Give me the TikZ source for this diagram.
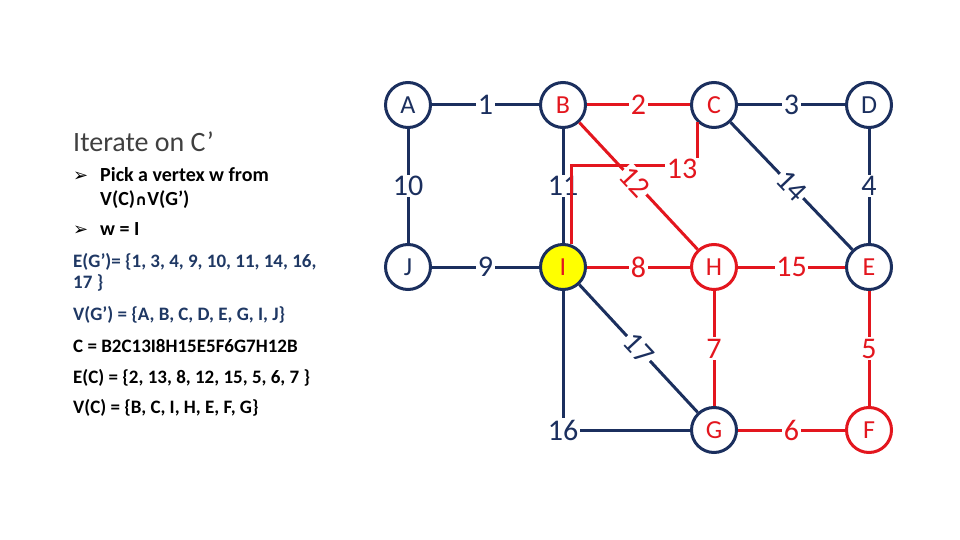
\documentclass[tikz,border=0pt]{standalone}
\usepackage{fontspec}
\setmainfont{Carlito}
\newfontfamily\dejavu{DejaVu Sans}
\definecolor{navy}{HTML}{1B2F5E}
\definecolor{gred}{HTML}{E3161E}
\definecolor{txtnavy}{HTML}{1F3864}
\definecolor{titlegray}{HTML}{404040}
\definecolor{hlyellow}{HTML}{FFFF00}
\begin{document}
\begin{tikzpicture}[x=1pt,y=-1pt,
  vtx/.style={circle, draw=navy, line width=3pt, minimum size=45pt, inner sep=0pt, fill=white,
    font=\fontsize{26}{26}\selectfont, text=navy},
  rtxt/.style={text=gred},
  rring/.style={draw=gred},
  ne/.style={navy, line width=3pt},
  re/.style={gred, line width=3pt},
  lbl/.style={fill=white, inner sep=1.5pt, font=\fontsize{30}{30}\selectfont},
  tx/.style={anchor=base west, inner sep=0pt, font=\bfseries\fontsize{19}{19}\selectfont},
  btx/.style={anchor=base west, inner sep=0pt, font=\bfseries\fontsize{20}{20}\selectfont},
  bul/.style={anchor=base west, inner sep=0pt, font=\dejavu\fontsize{18}{18}\selectfont},
]
\path[use as bounding box] (0,0) rectangle (960,540);

% left text
\node[anchor=base west, inner sep=0pt, font=\fontsize{28}{28}\selectfont, text=titlegray] (t0) at (73,152) {Iterate on C’};
\node[bul] (b1) at (73,182) {➢};
\node[btx] (t1) at (100,182) {Pick a vertex w from};
\node[btx] (t2) at (100,205) {V(C){\dejavu\fontsize{15}{15}\selectfont ∩}V(G’)};
\node[bul] (b2) at (73,235) {➢};
\node[btx] (t3) at (100,235) {w = I};
\node[tx, text=txtnavy] (t4) at (73,267) {E(G’)= \{1, 3, 4, 9, 10, 11, 14, 16,};
\node[tx, text=txtnavy] (t5) at (73,288) {17 \}};
\node[tx, text=txtnavy] (t6) at (73,320) {V(G’) = \{A, B, C, D, E, G, I, J\}};
\node[tx] (t7) at (73,352) {C = B2C13I8H15E5F6G7H12B};
\node[tx] (t8) at (73,383) {E(C) = \{2, 13, 8, 12, 15, 5, 6, 7 \}};
\node[tx] (t9) at (73,413) {V(C) = \{B, C, I, H, E, F, G\}};

% vertices
\node[vtx] (A) at (408,105) {A};
\node[vtx, rtxt] (B) at (563,105) {B};
\node[vtx, rtxt] (C) at (714,105) {C};
\node[vtx] (D) at (869,105) {D};
\node[vtx] (J) at (408,267) {J};
\node[vtx, rtxt, fill=hlyellow] (I) at (563,267) {I};
\node[vtx, rtxt, rring] (H) at (714,267) {H};
\node[vtx, rtxt] (E) at (869,267) {E};
\node[vtx, rtxt] (G) at (714,430) {G};
\node[vtx, rtxt, rring] (F) at (869,430) {F};
\coordinate (k13) at (0,166);

% navy edges
\draw[ne] (A) -- node[lbl]{1} (B);
\draw[ne] (C) -- node[lbl]{3} (D);
\draw[ne] (A) -- node[lbl]{10} (J);
\draw[ne] (B) -- node[lbl]{11} (I);
\draw[ne] (D) -- node[lbl]{4} (E);
\draw[ne] (J) -- node[lbl]{9} (I);
\draw[ne] (C) -- node[lbl, sloped]{14} (E);
\draw[ne] (I) -- node[lbl, sloped]{17} (G);
\draw[ne] (I) |- node[lbl, pos=0.5]{16} (G);

% red edges
\draw[re] (I.70) -- (I.70 |- k13) -| (C.south west);
\node[lbl, text=gred] (l13) at (682,169) {13};
\draw[re] (B) -- node[lbl, sloped, pos=0.47]{12} (H);
\draw[re] (B) -- node[lbl]{2} (C);
\draw[re] (I) -- node[lbl]{8} (H);
\draw[re] (H) -- node[lbl]{15} (E);
\draw[re] (H) -- node[lbl]{7} (G);
\draw[re] (E) -- node[lbl]{5} (F);
\draw[re] (G) -- node[lbl]{6} (F);
\end{tikzpicture}
\end{document}
